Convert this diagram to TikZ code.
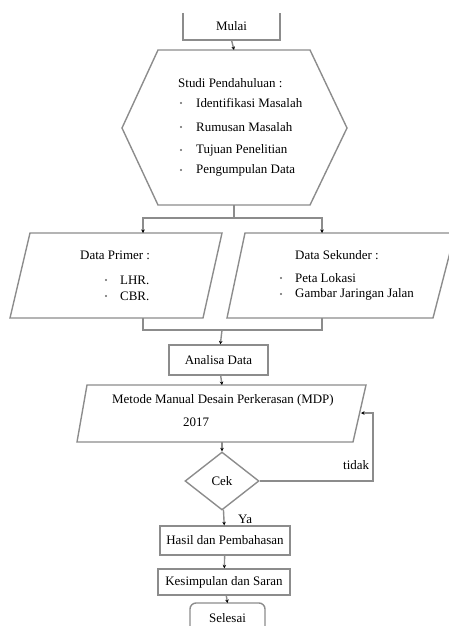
\documentclass[tikz,border=0pt]{standalone}
\usepackage{fontspec}
\setmainfont{Liberation Serif}
\usetikzlibrary{arrows.meta,shapes.geometric,positioning,calc}

\begin{document}
\begin{tikzpicture}[x=1bp,y=-1bp,>=Stealth,
  garis/.style={draw=black!45,line width=1.4pt},
  panah/.style={garis,-{Stealth[length=3.5pt,width=3.5pt,black]}},
  kotak/.style={garis,rectangle,inner sep=0pt,font=\fontsize{13}{15}\selectfont},
  teks/.style={font=\fontsize{13}{15}\selectfont,inner sep=0pt,anchor=west}]

\useasboundingbox (0,0) rectangle (449,626);

% --- Mulai (no top edge)
\draw[garis] (183,13) -- (183,40) -- (280,40) -- (280,13);
\coordinate (mulai-s) at (231.5,40);
\node[font=\fontsize{13}{15}\selectfont,inner sep=0pt] (mulai) at (231.5,26) {Mulai};

% --- Studi pendahuluan (hexagon)
\draw[garis] (158,50) -- (310,50) -- (347,128) -- (310,205) -- (158,205) -- (122,128) -- cycle;
\coordinate (studi-n) at (234,50);
\coordinate (studi-s) at (234,205);
\node[teks] (studi) at (178,83) {Studi Pendahuluan :};
\node[teks] (idmas) at (196,103) {Identifikasi Masalah};
\node[teks] (rumus) at (196,127) {Rumusan Masalah};
\node[teks] (tujuan) at (196,150) {Tujuan Penelitian};
\node[teks] (kumpul) at (196,170) {Pengumpulan Data};
\foreach \yy in {103,127,150,170}
  \fill[black!60] (181,\yy) circle (1.1bp);

% --- Data primer dan sekunder
\draw[garis] (30,233) -- (222,233) -- (203,318) -- (10,318) -- cycle;
\draw[garis] (245,233) -- (455,233) -- (433,318) -- (227,318) -- cycle;
\coordinate (primer-n) at (143,233);
\coordinate (primer-s) at (143,318);
\coordinate (sekunder-n) at (322,233);
\coordinate (sekunder-s) at (322,318);
\node[teks] (primer) at (80,255) {Data Primer :};
\node[teks] (lhr) at (120,280) {LHR.};
\node[teks] (cbr) at (120,296) {CBR.};
\fill[black!60] (106,280) circle (1.1bp);
\fill[black!60] (106,296) circle (1.1bp);
\node[teks] (sekunder) at (295,255) {Data Sekunder :};
\node[teks] (peta) at (295,278) {Peta Lokasi};
\node[teks] (gambar) at (295,294) {Gambar Jaringan Jalan};
\fill[black!60] (281,278) circle (1.1bp);
\fill[black!60] (281,294) circle (1.1bp);

% --- Analisa dan metode
\node[kotak,minimum width=99bp,minimum height=30bp] (analisa) at (218.5,360) {Analisa Data};
\draw[garis] (87,385) -- (366,385) -- (353,442) -- (77,442) -- cycle;
\coordinate (mdp-n) at (222,385);
\coordinate (mdp-s) at (222,442);
\coordinate (mdp-e) at (361,413);
\node[teks] (mdp) at (112,400) {Metode Manual Desain Perkerasan (MDP)};
\node[teks] (tahun) at (183,422) {2017};

% --- Cek
\node[garis,diamond,inner sep=0pt,minimum width=74bp,minimum height=58bp,
  font=\fontsize{13}{15}\selectfont] (cek) at (222,481) {Cek};

% --- Hasil, kesimpulan, selesai
\node[kotak,minimum width=130bp,minimum height=29bp] (hasil) at (225,540.5) {Hasil dan Pembahasan};
\node[kotak,minimum width=132bp,minimum height=26bp] (simpul) at (224,582) {Kesimpulan dan Saran};
\draw[garis,rounded corners=6bp] (190,640) -- (190,603) -- (265,603) -- (265,640);
\coordinate (selesai-n) at (227.5,603);
\node[font=\fontsize{13}{15}\selectfont,inner sep=0pt] (selesai) at (227.5,618) {Selesai};

% --- Connectors
\coordinate (bagi) at (234,218);
\coordinate (gabung) at (222,330);
\coordinate (balik) at (373,481);
\draw[panah] (mulai-s) -- (studi-n);
\draw[garis] (studi-s) -- (bagi);
\draw[panah] (bagi) -| (primer-n);
\draw[panah] (bagi) -| (sekunder-n);
\draw[garis] (primer-s) |- (gabung);
\draw[garis] (sekunder-s) |- (gabung);
\draw[panah] (gabung) -- (analisa);
\draw[panah] (analisa) -- (mdp-n);
\draw[panah] (mdp-s) -- (cek);
\draw[panah] (cek) -- (balik) |- (mdp-e);
\draw[panah] (cek) -- (hasil);
\draw[panah] (hasil) -- (simpul);
\draw[panah] (simpul) -- (selesai-n);

% --- Label
\node[teks] (tidak) at (343,465) {tidak};
\node[teks] (ya) at (238,519) {Ya};

\end{tikzpicture}
\end{document}
